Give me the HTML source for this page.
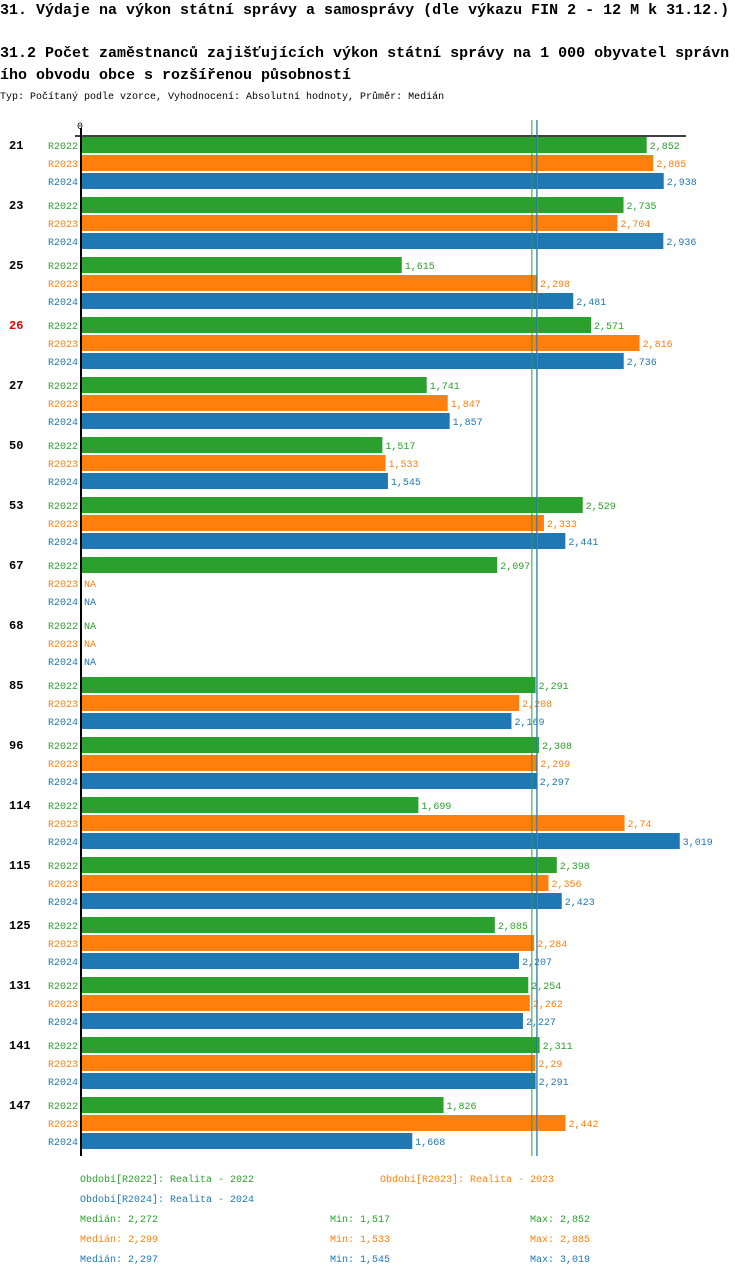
<!DOCTYPE html>
<html><head><meta charset="utf-8"><style>
body{margin:0;background:#fff;width:750px;height:1276px;overflow:hidden;font-family:"Liberation Mono","DejaVu Sans Mono",monospace;}
svg text{font-family:"Liberation Mono","DejaVu Sans Mono",monospace;}
</style></head><body>
<svg id="chart" width="750" height="1276" xmlns="http://www.w3.org/2000/svg">
<text x="0" y="14" font-size="15" font-weight="bold" fill="#000">31. Výdaje na výkon státní správy a samosprávy (dle výkazu FIN 2 - 12 M k 31.12.)</text>
<text x="0" y="57" font-size="15" font-weight="bold" fill="#000">31.2 Počet zaměstnanců zajišťujících výkon státní správy na 1 000 obyvatel správn</text>
<text x="0" y="79" font-size="15" font-weight="bold" fill="#000">ího obvodu obce s rozšířenou působností</text>
<text x="0" y="99" font-size="10" fill="#000">Typ: Počítaný podle vzorce, Vyhodnocení: Absolutní hodnoty, Průměr: Medián</text>
<text x="80" y="129" font-size="10" text-anchor="middle" fill="#000">0</text>
<g id="marks"></g>
</svg>
<script>
const categories=["21","23","25","26","27","50","53","67","68","85","96","114","115","125","131","141","147"];
const series=["R2022","R2023","R2024"];
const v2022=[2.852,2.735,1.615,2.571,1.741,1.517,2.529,2.097,null,2.291,2.308,1.699,2.398,2.085,2.254,2.311,1.826];
const v2023=[2.885,2.704,2.298,2.816,1.847,1.533,2.333,null,null,2.208,2.299,2.74,2.356,2.284,2.262,2.29,2.442];
const v2024=[2.938,2.936,2.481,2.736,1.857,1.545,2.441,null,null,2.169,2.297,3.019,2.423,2.207,2.227,2.291,1.668];
const medians=[2.272,2.299,2.297];
const mins=[1.517,1.533,1.545];
const maxs=[2.852,2.885,3.019];
const highlighted="26";
const colors=["#2ca02c","#ff7f0e","#1f77b4"];
const X0=82,SCALE=198,TOPY=137,GROUP=60,PITCH=18,BH=16;
const xs=v=>X0+v*SCALE;
const fmt=v=>String(v).replace('.',',');
const NS="http://www.w3.org/2000/svg";
const g=document.getElementById('marks');
function mk(tag,attrs,txt){const e=document.createElementNS(NS,tag);for(const k in attrs)e.setAttribute(k,attrs[k]);if(txt!=null)e.textContent=txt;g.appendChild(e);return e;}
const vals=[v2022,v2023,v2024];
const bottom=TOPY+categories.length*GROUP-1;
categories.forEach((c,i)=>{
  const y0=TOPY+i*GROUP;
  const t=mk('text',{x:9,y:y0+12,'font-size':12,'font-weight':'bold',fill:c===highlighted?'#e00':'#000'},c);
  
  
  series.forEach((s,j)=>{
    const y=y0+j*PITCH;
    const l=mk('text',{x:78,y:y+12,'font-size':10,'text-anchor':'end',fill:colors[j]},s);
    
    
    const v=vals[j][i];
    if(v==null){
      const na=mk('text',{x:84,y:y+12,'font-size':10,fill:colors[j]},'NA');
      
      
    }else{
      const r=mk('rect',{x:X0,y:y,width:xs(v)-X0,height:BH,fill:colors[j]});
      
      
      const vt=mk('text',{x:xs(v)+3,y:y+12,'font-size':10,fill:colors[j]},fmt(v));
      
      
    }
  });
});
const axLine=mk('line',{x1:81,y1:128,x2:81,y2:bottom,stroke:'#000','stroke-width':2});


const topLine=mk('line',{x1:75,y1:136,x2:686,y2:136,stroke:'#000','stroke-width':1.5});


medians.forEach((m,j)=>{
  const ml=mk('line',{x1:xs(m),y1:120,x2:xs(m),y2:bottom,stroke:colors[j],'stroke-width':1});
  
  
});
const legend=[["Období[R2022]: Realita - 2022",80,1182,0],["Období[R2023]: Realita - 2023",380,1182,1],["Období[R2024]: Realita - 2024",80,1202,2]];
legend.forEach(([t,x,y,j])=>{
  const e=mk('text',{x:x,y:y,'font-size':10,fill:colors[j]},t);
  
  
});
series.forEach((s,j)=>{
  const y=1222+j*20;
  const a=mk('text',{x:80,y:y,'font-size':10,fill:colors[j]},'Medián: '+fmt(medians[j]));
  
  
  const b=mk('text',{x:330,y:y,'font-size':10,fill:colors[j]},'Min: '+fmt(mins[j]));
  
  
  const c=mk('text',{x:530,y:y,'font-size':10,fill:colors[j]},'Max: '+fmt(maxs[j]));
  
  
});
</script>
</body></html>
